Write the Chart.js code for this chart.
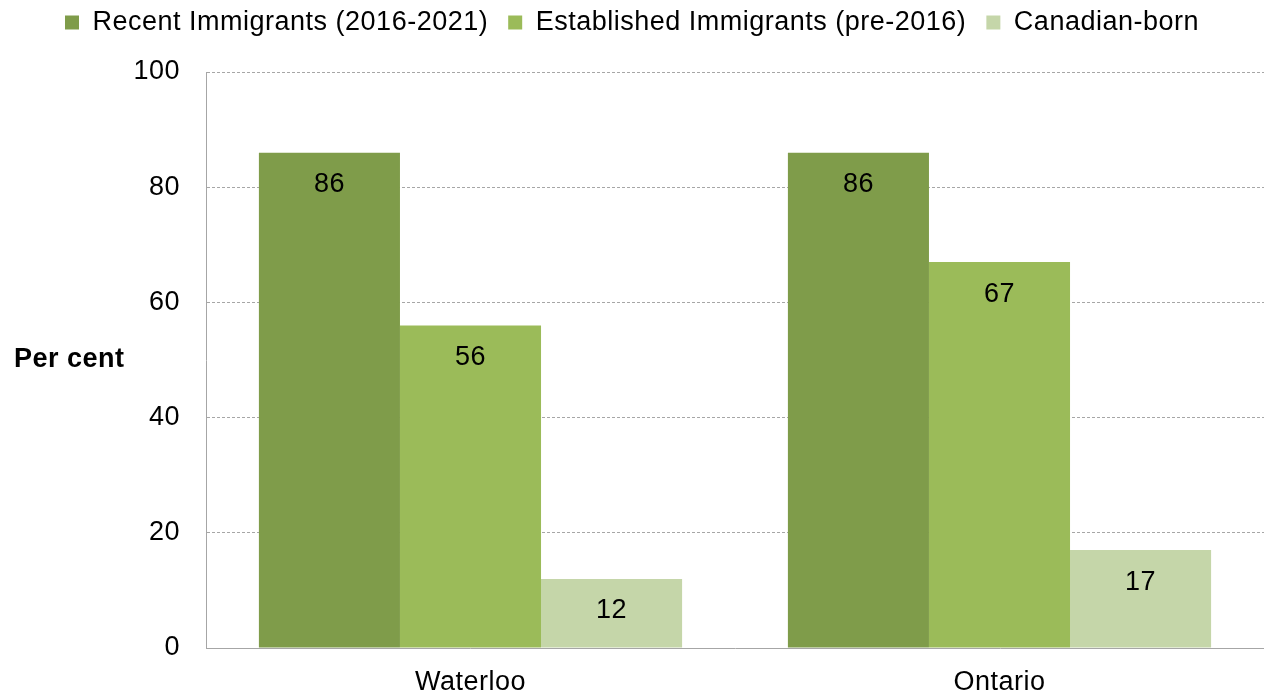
<!DOCTYPE html>
<html>
<head>
<meta charset="utf-8">
<script src="https://cdn.jsdelivr.net/npm/chart.js@4"></script>
<style>
  html, body { margin: 0; padding: 0; background: #fff; }
  #wrap { width: 1264px; height: 696px; position: relative; }
</style>
</head>
<body>
<div id="wrap"><canvas id="myCanvas"></canvas></div>
<script>
const regions = ['Waterloo', 'Ontario'];
const recentImmigrants = [86, 86];
const establishedImmigrants = [56, 67];
const canadianBorn = [12, 17];
const yTicks = [0, 20, 40, 60, 80, 100];

const FONT = '"Liberation Sans", Arial, sans-serif';
const SIZE = 27;

// slightly wider letter spacing for all canvas text
const spacing = {
  id: 'spacing',
  beforeUpdate(chart) { chart.ctx.letterSpacing = '0.5px'; },
  beforeDraw(chart) { chart.ctx.letterSpacing = '0.5px'; }
};

// extra room between the legend and the plot
const legendGap = {
  id: 'legendGap',
  beforeInit(chart) {
    const fit = chart.legend.fit;
    chart.legend.fit = function () {
      fit.call(this);
      this.height += 26;
    };
  }
};

// value labels sit just inside the top of each bar
const barLabels = {
  id: 'barLabels',
  afterDatasetsDraw(chart) {
    const ctx = chart.ctx;
    ctx.save();
    ctx.font = SIZE + 'px ' + FONT;
    ctx.fillStyle = '#000';
    ctx.textAlign = 'center';
    ctx.textBaseline = 'middle';
    chart.data.datasets.forEach((ds, i) => {
      chart.getDatasetMeta(i).data.forEach((bar, j) => {
        ctx.fillText(ds.data[j], bar.x, bar.y + 32);
      });
    });
    ctx.restore();
  }
};

// horizontal "Per cent" title to the left of the y axis
const yTitle = {
  id: 'yTitle',
  afterDraw(chart) {
    const ctx = chart.ctx;
    ctx.save();
    ctx.font = 'bold ' + SIZE + 'px ' + FONT;
    ctx.fillStyle = '#000';
    ctx.textAlign = 'left';
    ctx.textBaseline = 'middle';
    ctx.fillText('Per cent', 14, 360);
    ctx.restore();
  }
};

new Chart(document.getElementById('myCanvas'), {
  type: 'bar',
  data: {
    labels: regions,
    datasets: [
      { label: 'Recent Immigrants (2016-2021)', data: recentImmigrants, backgroundColor: '#7F9C4A' },
      { label: 'Established Immigrants (pre-2016)', data: establishedImmigrants, backgroundColor: '#9BBB59' },
      { label: 'Canadian-born', data: canadianBorn, backgroundColor: '#C5D6A9' }
    ]
  },
  options: {
    responsive: true,
    maintainAspectRatio: false,
    animation: false,
    layout: { padding: { left: 0, right: 0, top: -11, bottom: 0 } },
    datasets: { bar: { categoryPercentage: 0.8, barPercentage: 1.0 } },
    plugins: {
      tooltip: { enabled: false },
      legend: {
        position: 'top',
        labels: {
          boxWidth: 14,
          boxHeight: 14,
          padding: 20,
          color: '#000',
          font: { family: FONT, size: SIZE }
        }
      }
    },
    scales: {
      x: {
        afterFit(scale) { scale.height = 48; },
        grid: { display: false, drawTicks: false },
        border: { color: '#A6A6A6', width: 1 },
        ticks: { color: '#000', padding: 18, font: { family: FONT, size: SIZE } }
      },
      y: {
        min: 0,
        max: 100,
        afterFit(scale) { scale.width = 206; },
        afterBuildTicks(scale) { scale.ticks = yTicks.map(v => ({ value: v })); },
        grid: { color: '#A6A6A6', drawTicks: false, lineWidth: 1 },
        border: { color: '#A6A6A6', width: 1, dash: [3, 2] },
        ticks: { color: '#000', padding: 26, font: { family: FONT, size: SIZE } }
      }
    }
  },
  plugins: [spacing, legendGap, barLabels, yTitle]
});
</script>
</body>
</html>
